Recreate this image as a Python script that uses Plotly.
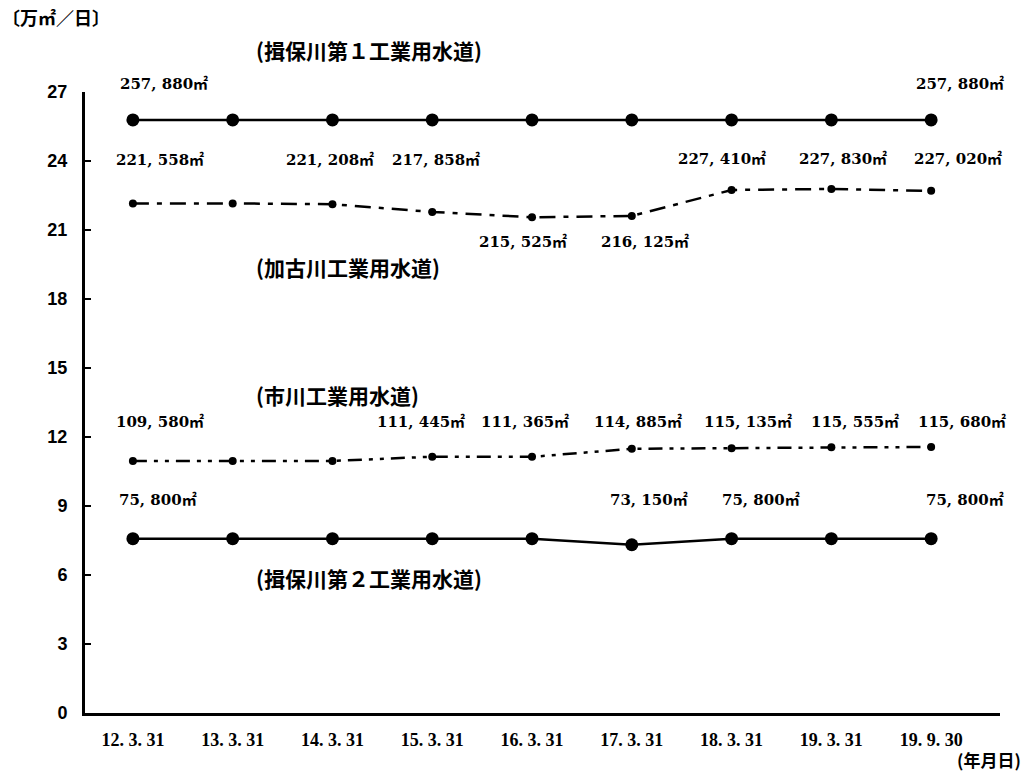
import plotly.graph_objects as go

# ---------------- data ----------------
dates = ["12. 3. 31", "13. 3. 31", "14. 3. 31", "15. 3. 31", "16. 3. 31",
         "17. 3. 31", "18. 3. 31", "19. 3. 31", "19. 9. 30"]

names = ["(揖保川第１工業用水道)", "(加古川工業用水道)",
         "(市川工業用水道)", "(揖保川第２工業用水道)"]

ibo1 = [257880, 257880, 257880, 257880, 257880, 257880, 257880, 257880, 257880]
kako = [221558, 221558, 221208, 217858, 215525, 216125, 227410, 227830, 227020]
ichi = [109580, 109580, 109580, 111445, 111365, 114885, 115135, 115555, 115680]
ibo2 = [75800, 75800, 75800, 75800, 75800, 73150, 75800, 75800, 75800]

y_ticks = [0, 3, 6, 9, 12, 15, 18, 21, 24, 27]

# which points carry a value label
ibo1_lab = [0, 8]
kako_lab = [0, 2, 3, 4, 5, 6, 7, 8]
ichi_lab = [0, 3, 4, 5, 6, 7, 8]
ibo2_lab = [0, 5, 6, 8]

# ---------------- layout / styling ----------------
BLACK = "#000000"
NUMFONT = dict(family="DejaVu Serif, Noto Sans CJK JP", size=15, color=BLACK, weight="bold")
CJKFONT = dict(family="Noto Sans CJK JP", size=21, color=BLACK, weight="bold")

xs = list(range(len(dates)))
to_man = lambda arr: [v / 10000 for v in arr]

def fmt(v):
    return f"{v:,}".replace(",", ", ") + "㎡"

fig = go.Figure()

series = [
    (ibo1, dict(width=2.5, dash="solid"), dict(size=13, symbol="circle")),
    (kako, dict(width=2.5, dash="16px,8px,5px,8px"), dict(size=8, symbol="circle")),
    (ichi, dict(width=2.5, dash="14px,7px,4px,7px,4px,7px"), dict(size=8, symbol="circle")),
    (ibo2, dict(width=2.5, dash="solid"), dict(size=13, symbol="circle")),
]
for vals, ln, mk in series:
    fig.add_trace(go.Scatter(
        x=xs, y=to_man(vals), mode="lines+markers",
        line=dict(color=BLACK, **ln),
        marker=dict(color=BLACK, **mk),
        showlegend=False, hoverinfo="skip", cliponaxis=False,
    ))

annotations = []

def add_labels(vals, idxs, rows, shifts, yshift=0):
    for i, r, s in zip(idxs, rows, shifts):
        annotations.append(dict(
            x=i, y=r, xref="x", yref="y", text=fmt(vals[i]), showarrow=False,
            xshift=s, yshift=yshift, font=NUMFONT, xanchor="center", yanchor="middle"))

add_labels(ibo1, ibo1_lab, [27, 27], [31, 29], yshift=8)
add_labels(kako, kako_lab,
           [24.05, 24.05, 24.05, 20.5, 20.5, 24.1, 24.1, 24.1],
           [27, -2, 4, -9, 13, -10, 12, 27])
add_labels(ichi, ichi_lab, [12.65] * 7, [27, -11, -7, 6, 16, 24, 31])
add_labels(ibo2, ibo2_lab, [9.26, 9.26, 9.26, 9.26], [25, 17, 29, 34])

name_pos = [27, 19.39, 13.83, 5.87]
name_shift = [42, 0, 0, 0]
for nm, yy, ys in zip(names, name_pos, name_shift):
    annotations.append(dict(x=1.21, y=yy, xref="x", yref="y", text=nm, yshift=ys,
                            showarrow=False, xanchor="left", yanchor="middle",
                            font=CJKFONT))

W, H = 1027, 774
ml, mr, mt, mb = 85, 27, 92, 61
pw, ph = W - ml - mr, H - mt - mb

# corner labels placed by pixel (from left / from top)
corner = [("〔万㎡／日〕", 0, 17, "left", 18), ("(年月日)", 1023, 760, "right", 17)]
for txt, px, py, anc, sz in corner:
    annotations.append(dict(x=(px - ml) / pw, y=(H - py - mb) / ph,
                            xref="paper", yref="paper", text=txt, showarrow=False,
                            xanchor=anc, yanchor="middle",
                            font=dict(family="Noto Sans CJK JP", size=sz, color=BLACK,
                                      weight="bold")))

fig.update_layout(
    width=W, height=H,
    margin=dict(l=ml, r=mr, t=mt, b=mb, pad=0),
    paper_bgcolor="white", plot_bgcolor="white",
    annotations=annotations,
    xaxis=dict(range=[-0.48, 8.69], tickvals=xs, ticktext=dates,
               showline=True, linewidth=3, linecolor=BLACK, ticks="",
               showgrid=False, zeroline=False, ticklabelstandoff=8,
               tickfont=dict(family="Liberation Serif", size=18, color=BLACK,
                             weight="bold")),
    yaxis=dict(range=[0, 27], tickvals=y_ticks, ticktext=[str(t) for t in y_ticks],
               showline=True, linewidth=3, linecolor=BLACK, ticks="inside",
               ticklen=6, tickwidth=2, tickcolor=BLACK,
               showgrid=False, zeroline=False, ticklabelstandoff=11,
               tickfont=dict(family="Liberation Sans", size=18, color=BLACK,
                             weight="bold")),
)

fig.write_html("out.html", config={"displayModeBar": False},
               post_script="document.body.style.margin='0';document.body.style.overflow='hidden';")
